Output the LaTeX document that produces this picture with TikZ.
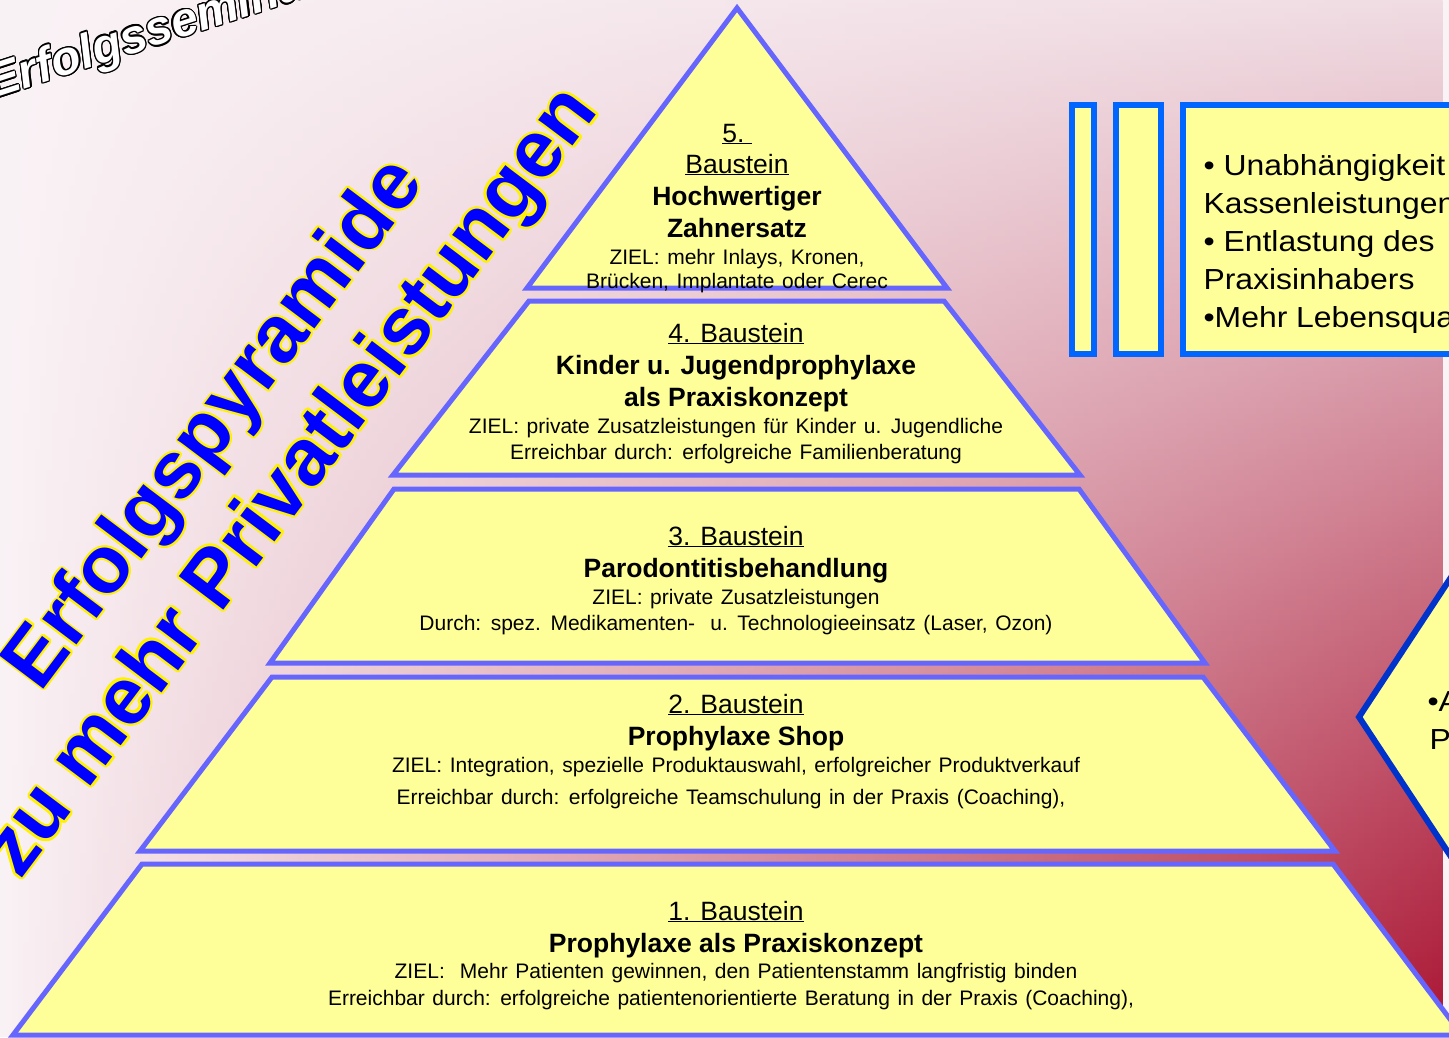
\documentclass[tikz,border=0pt]{standalone}
\usepackage{fontspec}
\setmainfont{Liberation Sans}
\newfontfamily\boxfont[FakeStretch=1.1]{Liberation Sans}
\usepackage{contour}
\usetikzlibrary{fadings}

\definecolor{pyrfill}{RGB}{255,255,153}
\definecolor{pyrline}{RGB}{102,102,255}
\definecolor{boxline}{RGB}{0,102,255}
\definecolor{dialine}{RGB}{0,51,204}
\definecolor{titleblue}{RGB}{0,0,255}
\definecolor{bgleft}{RGB}{250,243,246}
\definecolor{bgtop}{RGB}{240,220,227}
\definecolor{bgbot}{RGB}{170,20,50}

\tikzfading[name=fade from left, left color=transparent!100, right color=transparent!0]

\begin{document}
\begin{tikzpicture}[x=1pt,y=-1pt,
  layer/.style={fill=pyrfill,draw=pyrline,line width=5pt,line join=miter},
  rbox/.style={fill=pyrfill,draw=boxline,line width=6pt},
  diabox/.style={fill=pyrfill,draw=dialine,line width=6pt,line join=miter},
  head/.style={anchor=base,font=\fontsize{26.5}{32}\selectfont},
  ttl/.style={anchor=base,font=\bfseries\fontsize{26.5}{32}\selectfont},
  goal/.style={anchor=base,font={\fontsize{21}{25}\selectfont\spaceskip=0.36em\relax}},
  boxtxt/.style={anchor=base west,font=\boxfont\fontsize{29}{38}\selectfont},
  bigtitle/.style={text=titleblue,align=center,font=\bfseries\fontsize{81}{96}\selectfont}]
\useasboundingbox (0,0) rectangle (1449,1037);
\clip (0,0) rectangle (1449,1037);

% background
\fill[bgleft] (0,0) rectangle (1449,1037);
\shade[top color=bgtop,bottom color=bgbot,path fading=fade from left] (0,0) rectangle (1449,1037);

% title
\node[text=white,rotate=18,anchor=base west,font=\bfseries\itshape\fontsize{48}{56}\selectfont] (seminar) at (-10,100)
  {\contourlength{1.3pt}\contour{black}{Erfolgsseminar}};
\node[bigtitle,rotate=53] (title) at (256,455)
  {\contourlength{1.8pt}\contour{yellow}{Erfolgspyramide}\\\contour{yellow}{zu mehr Privatleistungen}};

% pyramid
\draw[layer] (737,8) -- (947,288) -- (527,288) -- cycle;
\draw[layer] (529,301) -- (944,301) -- (1080,475) -- (393,475) -- cycle;
\draw[layer] (394,489) -- (1079,489) -- (1205,663) -- (270,663) -- cycle;
\draw[layer] (272,677) -- (1203,677) -- (1335,851) -- (140,851) -- cycle;
\draw[layer] (142,864) -- (1333,864) -- (1462,1035) -- (13,1035) -- cycle;

% 5. Baustein
\node[head] (l5a) at (737,142) {\underline{5.~}};
\node[head] (l5b) at (737,173) {\underline{Baustein}};
\node[ttl] (l5c) at (737,205) {Hochwertiger};
\node[ttl] (l5d) at (737,237) {Zahnersatz};
\node[goal] (l5e) at (737,264) {ZIEL: mehr Inlays, Kronen,};
\node[goal] (l5f) at (737,288) {Brücken, Implantate oder Cerec};

% 4. Baustein
\node[head] (l4a) at (736,342) {\underline{4. Baustein}};
\node[ttl] (l4b) at (736,374) {Kinder u. Jugendprophylaxe};
\node[ttl] (l4c) at (736,406) {als Praxiskonzept};
\node[goal] (l4d) at (736,433) {ZIEL: private Zusatzleistungen für Kinder u. Jugendliche};
\node[goal] (l4e) at (736,459) {Erreichbar durch: erfolgreiche Familienberatung};

% 3. Baustein
\node[head] (l3a) at (736,545) {\underline{3. Baustein}};
\node[ttl] (l3b) at (736,577) {Parodontitisbehandlung};
\node[goal] (l3c) at (736,604) {ZIEL: private Zusatzleistungen};
\node[goal] (l3d) at (736,630) {Durch: spez. Medikamenten-\ \ u. Technologieeinsatz (Laser, Ozon)};

% 2. Baustein
\node[head] (l2a) at (736,713) {\underline{2. Baustein}};
\node[ttl] (l2b) at (736,745) {Prophylaxe Shop};
\node[goal] (l2c) at (736,772) {ZIEL: Integration, spezielle Produktauswahl, erfolgreicher Produktverkauf};
\node[goal] (l2d) at (731,804) {Erreichbar durch: erfolgreiche Teamschulung in der Praxis (Coaching),};

% 1. Baustein
\node[head] (l1a) at (736,920) {\underline{1. Baustein}};
\node[ttl] (l1b) at (736,952) {Prophylaxe als Praxiskonzept};
\node[goal] (l1c) at (736,978) {ZIEL:\ \ Mehr Patienten gewinnen, den Patientenstamm langfristig binden};
\node[goal] (l1d) at (731,1005) {Erreichbar durch: erfolgreiche patientenorientierte Beratung in der Praxis (Coaching),};

% right side
\draw[rbox] (1072,105) rectangle (1094,354);
\draw[rbox] (1116,105) rectangle (1161,354);
\draw[rbox] (1183,105) rectangle (1470,354);
\node[boxtxt] (r1) at (1200,175) {• Unabhängigkeit von};
\node[boxtxt] (r2) at (1200,213) {Kassenleistungen};
\node[boxtxt] (r3) at (1200,251) {• Entlastung des};
\node[boxtxt] (r4) at (1200,289) {Praxisinhabers};
\node[boxtxt] (r5) at (1200,327) {•Mehr Lebensqualität};

\draw[diabox] (1465,556) -- (1359,717) -- (1465,878) -- cycle;
\node[boxtxt] (d1) at (1424,711) {•A};
\node[boxtxt] (d2) at (1426,749) {P};
\end{tikzpicture}
\end{document}
